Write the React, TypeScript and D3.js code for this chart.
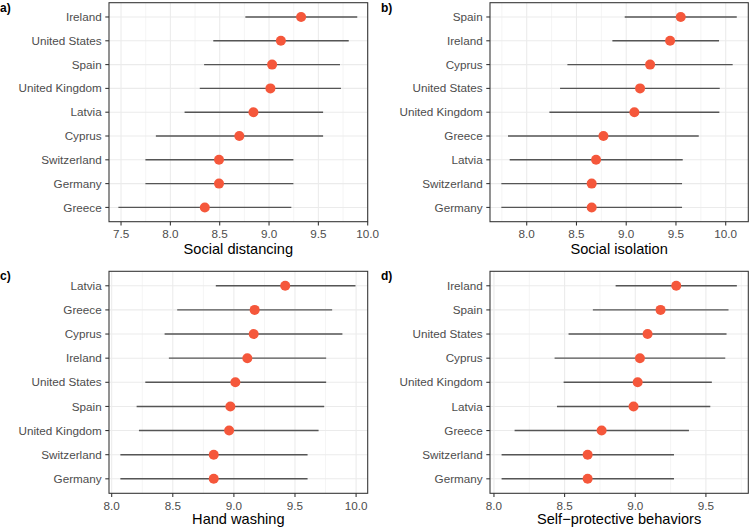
import React from "react";
import * as d3 from "d3";

// Panel a) Social distancing
const countriesA = ["Ireland", "United States", "Spain", "United Kingdom", "Latvia", "Cyprus", "Switzerland", "Germany", "Greece"];
const meanA = [9.325, 9.12, 9.031, 9.014, 8.842, 8.699, 8.493, 8.493, 8.349];
const lowA = [8.76, 8.435, 8.342, 8.298, 8.144, 7.853, 7.747, 7.747, 7.473];
const highA = [9.894, 9.808, 9.719, 9.729, 9.548, 9.548, 9.247, 9.247, 9.226];

// Panel b) Social isolation
const countriesB = ["Spain", "Ireland", "Cyprus", "United States", "United Kingdom", "Greece", "Latvia", "Switzerland", "Germany"];
const meanB = [9.548, 9.441, 9.24, 9.139, 9.082, 8.771, 8.697, 8.653, 8.653];
const lowB = [8.985, 8.861, 8.409, 8.335, 8.228, 7.812, 7.829, 7.745, 7.745];
const highB = [10.111, 9.933, 10.07, 9.94, 9.936, 9.729, 9.568, 9.561, 9.561];

// Panel c) Hand washing
const countriesC = ["Latvia", "Greece", "Cyprus", "Ireland", "United States", "Spain", "United Kingdom", "Switzerland", "Germany"];
const meanC = [9.42, 9.17, 9.162, 9.11, 9.012, 8.971, 8.961, 8.835, 8.835];
const lowC = [8.852, 8.536, 8.433, 8.468, 8.275, 8.204, 8.223, 8.071, 8.071];
const highC = [9.995, 9.804, 9.888, 9.755, 9.755, 9.739, 9.693, 9.603, 9.603];

// Panel d) Self-protective behaviors
const countriesD = ["Ireland", "Spain", "United States", "Cyprus", "United Kingdom", "Latvia", "Greece", "Switzerland", "Germany"];
const meanD = [9.29, 9.179, 9.087, 9.033, 9.017, 8.988, 8.762, 8.663, 8.663];
const lowD = [8.861, 8.7, 8.528, 8.429, 8.493, 8.446, 8.146, 8.054, 8.054];
const highD = [9.719, 9.66, 9.646, 9.637, 9.542, 9.531, 9.38, 9.274, 9.274];

const ticksA = [7.5, 8.0, 8.5, 9.0, 9.5, 10.0];
const ticksB = [8.0, 8.5, 9.0, 9.5, 10.0];
const ticksC = [8.0, 8.5, 9.0, 9.5, 10.0];
const ticksD = [8.0, 8.5, 9.0, 9.5];

const titles = ["Social distancing", "Social isolation", "Hand washing", "Self\u2212protective behaviors"];
const tags = ["a)", "b)", "c)", "d)"];

type PanelProps = {
  tag: string;
  title: string;
  countries: string[];
  mean: number[];
  low: number[];
  high: number[];
  ticks: number[];
  domain: [number, number];
  left: number;
  right: number;
  top: number;
  bottom: number;
  tagX: number;
  tagY: number;
  titleY: number;
};

const FONT = "'Liberation Sans', Arial, Helvetica, sans-serif";

function Panel(p: PanelProps) {
  const x = d3.scaleLinear().domain(p.domain).range([p.left, p.right]);
  const y = d3.scalePoint<string>().domain(p.countries).range([p.top, p.bottom]).padding(0.6);
  const minor: number[] = [];
  for (let i = 0; i < p.ticks.length + 1; i++) {
    const v = p.ticks[0] - 0.25 + i * 0.5;
    if (v > p.domain[0] && v < p.domain[1]) minor.push(v);
  }
  const fmt = d3.format(".1f");
  return (
    <g>
      <rect x={p.left} y={p.top} width={p.right - p.left} height={p.bottom - p.top} fill="white" />
      {minor.map((v) => (
        <line key={"mn" + v} x1={x(v)} x2={x(v)} y1={p.top} y2={p.bottom} stroke="#EBEBEB" strokeWidth={0.55} />
      ))}
      {p.ticks.map((v) => (
        <line key={"mj" + v} x1={x(v)} x2={x(v)} y1={p.top} y2={p.bottom} stroke="#EBEBEB" strokeWidth={1.07} />
      ))}
      {p.countries.map((c) => (
        <line key={"hg" + c} x1={p.left} x2={p.right} y1={y(c)} y2={y(c)} stroke="#EBEBEB" strokeWidth={1.07} />
      ))}
      {p.countries.map((c, i) => (
        <line key={"eb" + c} x1={x(p.low[i])} x2={x(p.high[i])} y1={y(c)} y2={y(c)} stroke="#555555" strokeWidth={1.4} />
      ))}
      {p.countries.map((c, i) => (
        <circle key={"pt" + c} cx={x(p.mean[i])} cy={y(c)} r={5} fill="#F5573B" />
      ))}
      <rect x={p.left} y={p.top} width={p.right - p.left} height={p.bottom - p.top} fill="none" stroke="#333333" strokeWidth={1.07} />
      {p.ticks.map((v) => (
        <g key={"xt" + v}>
          <line x1={x(v)} x2={x(v)} y1={p.bottom} y2={p.bottom + 3.7} stroke="#333333" strokeWidth={1.07} />
          <text x={x(v)} y={p.bottom + 16.5} textAnchor="middle" fontSize={11.7} fill="#4D4D4D" fontFamily={FONT}>
            {fmt(v)}
          </text>
        </g>
      ))}
      {p.countries.map((c) => (
        <g key={"yt" + c}>
          <line x1={p.left - 3.7} x2={p.left} y1={y(c)} y2={y(c)} stroke="#333333" strokeWidth={1.07} />
          <text x={p.left - 7.3} y={(y(c) as number) + 4.1} textAnchor="end" fontSize={11.7} fill="#4D4D4D" fontFamily={FONT}>
            {c}
          </text>
        </g>
      ))}
      <text x={(p.left + p.right) / 2} y={p.titleY} textAnchor="middle" fontSize={14.6} fill="black" fontFamily={FONT}>
        {p.title}
      </text>
      <text x={p.tagX} y={p.tagY} fontSize={12} fontWeight="bold" fill="black" fontFamily={FONT}>
        {p.tag}
      </text>
    </g>
  );
}

export default function App() {
  const W = 749;
  const H = 528;
  return (
    <svg width={W} height={H} style={{ position: "absolute", left: 0, top: 0, background: "white" }}>
      <rect width={W} height={H} fill="white" />
      <Panel tag={tags[0]} title={titles[0]} countries={countriesA} mean={meanA} low={lowA} high={highA}
        ticks={ticksA} domain={[7.378, 10.0]} left={109} right={367.7} top={2.7} bottom={221.7}
        tagX={0} tagY={11.5} titleY={253.5} />
      <Panel tag={tags[1]} title={titles[1]} countries={countriesB} mean={meanB} low={lowB} high={highB}
        ticks={ticksB} domain={[7.631, 10.227]} left={490} right={748.3} top={2.7} bottom={221.7}
        tagX={381} tagY={11.5} titleY={253.5} />
      <Panel tag={tags[2]} title={titles[2]} countries={countriesC} mean={meanC} low={lowC} high={highC}
        ticks={ticksC} domain={[7.978, 10.095]} left={109} right={367.7} top={271.3} bottom={493.3}
        tagX={0} tagY={280} titleY={524} />
      <Panel tag={tags[3]} title={titles[3]} countries={countriesD} mean={meanD} low={lowD} high={highD}
        ticks={ticksD} domain={[7.972, 9.8]} left={490} right={748.3} top={271.3} bottom={493.3}
        tagX={381} tagY={280} titleY={524} />
    </svg>
  );
}
